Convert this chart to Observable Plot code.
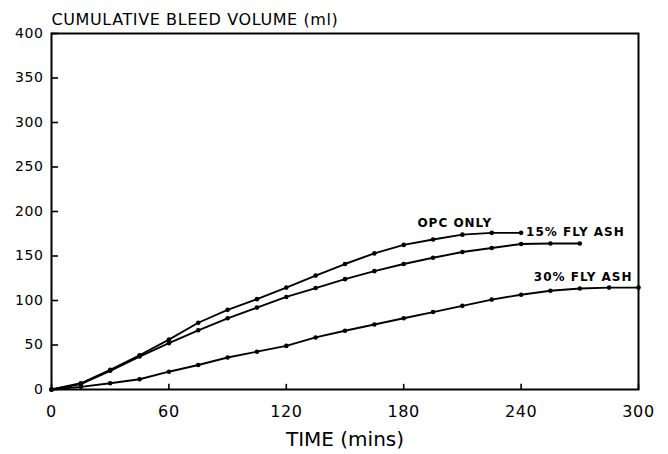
<!DOCTYPE html>
<html>
<head>
<meta charset="utf-8">
<script src="https://cdn.jsdelivr.net/npm/d3@7"></script>
<script src="https://cdn.jsdelivr.net/npm/@observablehq/plot@0.6"></script>
<style>
  html, body { margin: 0; padding: 0; background: #fff; }
</style>
</head>
<body>
<div id="chart"></div>
<script>
// ---- data ----
const times = [0, 15, 30, 45, 60, 75, 90, 105, 120, 135, 150, 165, 180, 195, 210, 225, 240, 255, 270, 285, 300];
const seriesNames = ["OPC ONLY", "15% FLY ASH", "30% FLY ASH"];
const opcOnly = [0, 7, 22, 38.5, 56, 75, 89.5, 101.5, 114.5, 128, 141, 153, 162.5, 168.5, 174, 176, 176];
const flyAsh15 = [0, 6, 21, 37, 52, 66.5, 80, 92, 104, 114, 124, 133, 141, 148, 154.5, 159, 163.5, 164, 164];
const flyAsh30 = [0, 3, 7, 11.5, 20, 27.5, 36, 42.5, 49, 58.5, 66, 73, 80, 87, 94, 101, 106.5, 111, 113.5, 114.5, 114.5];
const xTicks = [0, 60, 120, 180, 240, 300];
const yTicks = [0, 50, 100, 150, 200, 250, 300, 350, 400];
const titleText = "CUMULATIVE BLEED VOLUME (ml)";
const xLabel = "TIME (mins)";

const values = [opcOnly, flyAsh15, flyAsh30];
const rows = values.flatMap((arr, k) => arr.map((v, i) => ({t: times[i], v, s: seriesNames[k]})));
const lastOf = k => { const arr = values[k]; const i = arr.length - 1; return [{t: times[i], v: arr[i], label: seriesNames[k]}]; };

const font = "DejaVu Sans, Liberation Sans, sans-serif";

const chart = Plot.plot({
  width: 668,
  height: 454,
  marginLeft: 51,
  marginRight: 30,
  marginTop: 33,
  marginBottom: 65,
  style: {fontFamily: font, color: "black", background: "white"},
  x: {domain: [0, 300]},
  y: {domain: [0, 400]},
  marks: [
    Plot.axisY({ticks: yTicks, tickSize: 0, tickPadding: 8, fontSize: 14, label: null}),
    Plot.axisX({ticks: xTicks, tickSize: 0, tickPadding: 16, fontSize: 16, label: null}),
    // inward tick marks (short rules starting at the frame edge)
    Plot.ruleY(yTicks, {y: d => d, x1: 0, x2: 3.6, stroke: "black", strokeWidth: 1.6}),
    Plot.ruleX(xTicks, {x: d => d, y1: 0, y2: 5.8, stroke: "black", strokeWidth: 1.6}),
    Plot.frame({stroke: "black", strokeWidth: 2}),
    Plot.line(rows, {x: "t", y: "v", z: "s", stroke: "black", strokeWidth: 1.9}),
    Plot.dot(rows, {x: "t", y: "v", r: 2.3, fill: "black"}),
    Plot.text(lastOf(0), {x: "t", y: "v", text: "label", textAnchor: "end", dx: -29, dy: -10, fontSize: 12, fontWeight: "bold"}),
    Plot.text(lastOf(1), {x: "t", y: "v", text: "label", textAnchor: "end", dx: 45, dy: -11, fontSize: 12, fontWeight: "bold"}),
    Plot.text(lastOf(2), {x: "t", y: "v", text: "label", textAnchor: "end", dx: -6, dy: -10, fontSize: 12, fontWeight: "bold"}),
    Plot.text([titleText], {frameAnchor: "top-left", textAnchor: "start", lineAnchor: "bottom", dy: -9, fontSize: 16}),
    Plot.text([xLabel], {frameAnchor: "bottom", lineAnchor: "top", dy: 42, fontSize: 20})
  ]
});

// letter spacing to mimic the wide drafting lettering
d3.select(chart).selectAll("text").each(function () {
  const t = this.textContent;
  if (t === titleText) this.setAttribute("letter-spacing", "0.6");
  else if (seriesNames.includes(t)) this.setAttribute("letter-spacing", "1");
  else if (/^\d+$/.test(t)) this.setAttribute("letter-spacing", "0.6");
});

document.getElementById("chart").appendChild(chart);
</script>
</body>
</html>
